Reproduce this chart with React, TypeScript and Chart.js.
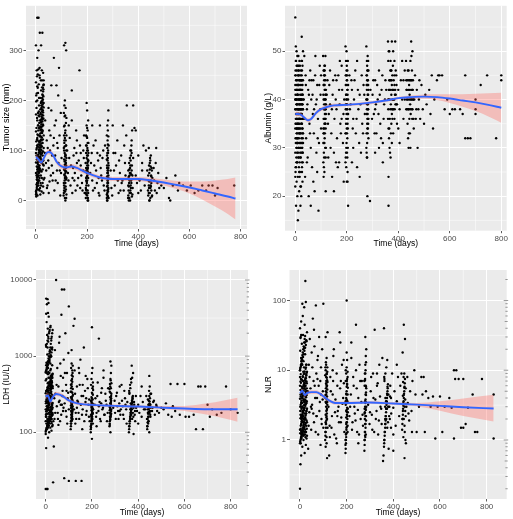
import React, { useEffect, useRef } from "react";
import { Chart, registerables } from "chart.js";
Chart.register(...registerables);

const FONT = "'Liberation Sans', Arial, Helvetica, sans-serif";
const BAND = "rgba(255,104,95,0.35)";
const LINE = "#3366FF";

// ---------- Tumor size ----------
const tumorPoints: number[][] = [
  [0,12],[3,25],[6,40],[10,55],[14,70],[18,85],[22,100],[26,115],[30,130],[2,145],[5,160],[8,175],[12,190],[16,205],[20,220],[24,240],[28,255],[1,20],[4,35],[7,48],[11,62],[15,78],[19,92],[23,108],[27,122],[0,138],[9,150],[13,168],[17,182],[21,198],[25,212],[29,230],[3,260],[6,10],[10,30],[14,45],[18,60],[22,75],[26,90],[30,105],[1,118],[5,125],[9,140],[13,155],[17,172],[21,185],[25,200],[29,15],[2,50],[8,65],[12,80],[16,95],[20,110],[24,135],[28,150],[4,165],[11,178],[19,195],[27,210],[7,225],[15,245],[23,260],[5,285],[10,300],[20,310],[0,310],[25,335],[5,365],[10,365],[15,335],[18,120],[6,88],[12,100],[22,58],[26,35],[14,20],[28,72],[3,82],[9,112],[30,42],
  [35,95],[40,60],[42,120],[45,30],[48,80],[50,15],[52,140],[55,100],[58,50],[60,230],[62,70],[65,40],[68,110],[70,285],[72,20],[75,90],[78,160],[80,230],[82,60],[85,35],[88,75],[90,265],[92,130],[95,10],[98,55],[100,85],[60,180],[50,65],[70,125],[85,105],
  [108,10],[110,30],[112,50],[114,70],[116,90],[118,110],[110,130],[112,150],[114,170],[116,185],[118,5],[110,20],[112,40],[114,60],[116,80],[118,100],[111,120],[113,60],[115,35],[117,75],[119,45],[110,310],[115,315],[118,300],[113,200],[112,95],
  [125,55],[130,85],[135,30],[140,160],[145,65],[150,105],[155,20],[160,75],[165,45],[170,260],[175,95],[180,35],[185,60],[190,15],[140,220],[150,40],[160,120],[175,70],[185,100],
  [195,5],[197,20],[199,35],[201,50],[203,65],[205,80],[196,95],[198,110],[200,125],[202,140],[204,160],[200,180],[198,195],[202,0],[204,15],[196,45],[200,70],[203,90],[197,60],[205,30],[201,105],
  [215,75],[220,40],[225,110],[230,25],[235,60],[240,95],[245,15],[250,150],[255,50],[260,85],[265,30],[270,110],[245,45],
  [278,0],[279,15],[280,30],[281,45],[282,60],[283,75],[278,90],[279,105],[280,120],[281,140],[282,160],[283,180],[280,10],[282,35],[279,55],[281,85],[283,25],[278,70],[282,100],
  [295,25],[300,150],[305,60],[310,95],[320,40],[325,80],[330,20],[340,150],[345,110],[350,50],[355,190],[335,35],
  [360,5],[362,20],[364,35],[366,50],[368,65],[370,80],[372,100],[374,120],[376,140],[362,45],[366,15],[370,30],[374,60],[378,25],[364,75],[368,0],[372,40],[380,190],[380,85],[385,145],[390,140],[390,50],[395,35],
  [430,100],[435,60],[438,20],[440,40],[442,70],[444,0],[446,85],[448,30],[450,50],[452,65],[454,10],[441,105],[447,25],[455,45],[460,65],[465,20],[470,105],[475,35],
  [490,30],[500,25],[510,45],[520,5],[525,0],[535,30],[545,50],[555,20],[560,35],[575,30],[590,20],[605,30],[620,15],[635,20],[650,30],[665,20],[675,30],[690,30],[700,10],[710,25],[775,30]
];
const tumorPointsDense: number[][] = [
  [1,15],[4,28],[7,42],[10,68],[13,82],[16,110],[19,128],[22,142],[25,158],[28,170],[2,185],[5,200],[8,215],[11,232],[14,250],[17,12],[20,30],[23,45],[26,62],[29,80],[0,95],[3,105],[6,120],[9,130],[12,145],[15,160],[18,175],[21,190],[24,205],[27,225],[30,240],[0,55],[3,68],[6,75],[9,92],[12,118],[15,130],[18,140],[21,152],[24,165],[27,180],[30,195],[1,210],[4,122],[7,108],[10,85],[13,40],[16,25],[19,50],[22,18],[25,78],[28,98],[2,102],[5,62],[8,35],[11,22],[14,112],[17,148],[20,162],[23,178],[26,192],[29,208],[0,172],[4,248],[9,262],[19,240],[24,226],
  [109,15],[111,25],[113,45],[115,55],[117,65],[119,85],[109,105],[111,115],[113,125],[115,140],[117,155],[119,165],[109,175],[111,190],[113,5],[115,0],[117,22],[119,12],[110,62],[112,78],[114,88],[116,48],[118,58],[110,100],[114,135],
  [195,25],[197,40],[199,55],[201,75],[203,100],[205,115],[196,130],[198,150],[200,10],[202,20],[204,45],[196,65],[198,85],[200,100],[202,115],[204,0],[206,55],[194,75],[200,40],[203,5],[197,12],
  [277,5],[279,20],[281,40],[283,50],[278,65],[280,80],[282,95],[284,110],[277,130],[279,150],[281,8],[283,45],[278,28],[280,60],[282,18],[284,70],[279,0],
  [361,10],[363,28],[365,42],[367,55],[369,70],[371,90],[373,110],[361,60],[365,5],[369,20],[373,35],[377,50],[363,0],[371,15],[375,8],
  [439,10],[441,30],[443,55],[445,75],[447,5],[449,40],[451,20],[453,60],[443,0],[449,90],[451,35],[445,15],
  [33,45],[36,160],[39,75],[43,25],[46,105],[49,185],[53,38],[57,130],[63,90],[67,55],[73,150],[77,40],[83,115],[87,210],[93,60],[97,175]
];
const tumorPointsExtra: number[][] = [
  [0,18],[2,32],[4,46],[6,58],[8,72],[10,88],[12,102],[14,116],[16,128],[18,142],[20,156],[22,168],[24,182],[26,196],[28,218],[30,232],[1,8],[3,42],[5,52],[7,66],[9,78],[11,96],[13,106],[15,118],[17,134],[19,146],[21,158],[23,172],[25,188],[27,202],[29,222],[0,236],[2,12],[4,22],[6,30],[8,48],[10,58],[12,66],[14,84],[16,98],[18,106],[20,122],[22,136],[24,148],[26,162],[28,176],[30,186],[1,198],[3,214],[5,228],[7,252],[9,38],[11,50],[13,56],[15,64],[17,88],[19,102],[21,114],[23,126],[25,138],[27,152],[29,164],[0,76],[2,90],[4,110],[6,132],[8,150],[10,170],[12,205],[14,265],[16,60],[18,35],[20,82],[22,120],[24,95],[26,140],[28,28],[30,70],
  [109,35],[111,52],[113,72],[115,92],[117,110],[119,130],[110,148],[112,168],[114,18],[116,28],[118,42],[110,82],[112,108],[116,120],[118,70],
  [195,15],[197,30],[199,48],[201,62],[203,78],[205,95],[196,110],[198,128],[200,145],[202,58],[204,70],[196,22],[198,38],[200,90],[202,82],
  [277,12],[279,35],[281,55],[283,65],[277,82],[279,95],[281,112],[283,128],[278,48],[280,40],[282,22],[284,5],
  [361,30],[363,48],[365,62],[367,85],[369,100],[371,25],[373,52],[375,70],[377,12],[366,40],[370,55],[374,95],
  [439,50],[441,15],[443,38],[445,62],[447,80],[449,28],[451,48],[453,8],[442,25],[448,68]
];
const tumorPointsBetween: number[][] = [
  [122,100],[127,40],[132,125],[137,70],[142,15],[147,90],[152,55],[157,140],[162,30],[167,80],[172,110],[177,50],[182,20],[187,85],[128,150],[143,45],[158,95],[173,25],[188,130],
  [212,55],[218,95],[223,20],[228,70],[233,120],[238,35],[243,80],[248,10],[253,65],[258,40],[263,100],[268,20],[220,150],[250,90],
  [292,60],[298,10],[303,95],[308,30],[313,70],[318,120],[323,15],[328,55],[333,90],[338,40],[343,20],[348,75],[353,130],
  [400,90],[405,40],[410,20],[415,60],[420,110],[425,30],[400,15],[415,75],[462,40],[468,75],[472,15],[478,55],[482,25]
];
const tumorFitX = [0,10,20,30,40,50,60,70,80,100,120,140,160,180,200,225,250,275,300,350,400,450,500,550,600,650,700,750,780];
const tumorFit = [87,82,76,84,94,97,95,88,78,68,66,68,65,60,55,50,46,44,43,43,43,40,36,31,26,20,14,8,4];
const tumorUpper = [93,87,81,89,99,102,100,93,83,73,71,73,70,65,59,54,50,48,47,47,47,45,42,39,38,38,40,43,46];
const tumorLower = [81,77,71,79,89,92,90,83,73,63,61,63,60,55,51,46,42,40,39,39,39,35,30,23,14,2,-12,-27,-38];

// ---------- Albumin ----------
const albPoints: number[][] = [
  [0,57],[2,51],[5,50],[25,53],[10,15],[12,17],[3,18],[20,18],[8,20],[15,21],[0,22],[22,22],[5,23],[28,23],[10,24],[18,25],[2,26],[26,26],[7,27],[14,28],[21,28],[0,29],[11,29],[27,30],[4,30],[16,31],[23,31],[1,32],[9,32],[19,33],[29,33],[6,34],[13,34],[24,35],[3,35],[17,36],[28,36],[8,37],[20,37],[0,38],[12,38],[25,38],[5,39],[15,39],[22,40],[2,40],[10,41],[27,41],[7,42],[18,42],[0,43],[14,43],[24,44],[4,44],[11,45],[21,45],[1,46],[26,46],[9,47],[16,48],[3,48],[12,49],[30,50],[6,36],[23,33],[19,39],[13,30],[29,27],[1,41],[17,44],[26,35],[8,31],[30,40],[14,37],[20,34],[5,42],
  [35,49],[38,24],[40,45],[42,32],[45,38],[48,28],[50,42],[52,20],[55,35],[58,46],[60,30],[62,40],[65,26],[68,37],[70,44],[72,33],[75,21],[78,49],[80,39],[82,29],[85,43],[88,36],[90,17],[92,31],[95,47],[98,41],[100,34],[60,18],[45,27],[70,23],[85,25],[55,44],
  [108,49],[110,46],[112,44],[114,42],[116,40],[118,38],[110,36],[112,34],[114,32],[116,30],[118,28],[111,26],[113,47],[115,45],[117,41],[119,37],[110,33],[112,39],[114,43],[116,35],[118,21],[113,25],
  [125,44],[130,37],[135,46],[140,33],[145,41],[150,29],[155,45],[160,38],[165,26],[170,42],[175,35],[180,47],[185,31],[190,40],[150,21],[135,39],[160,44],[170,27],[180,36],
  [195,51],[197,48],[199,46],[201,44],[203,42],[205,40],[196,38],[198,36],[200,34],[202,32],[204,30],[196,28],[198,26],[200,23],[203,23],[205,18],[201,45],[199,39],[197,41],[203,37],[200,43],
  [210,45],[215,39],[220,42],[225,36],[230,44],[235,33],[240,48],[245,38],[250,41],[255,29],[260,35],[265,43],[270,37],[240,26],[225,30],
  [276,51],[278,48],[280,46],[282,44],[284,42],[276,40],[278,38],[280,36],[282,34],[284,32],[276,30],[278,28],[280,20],[290,19],[282,39],[280,43],[278,45],
  [300,41],[305,37],[310,44],[315,33],[320,40],[325,46],[330,35],[335,42],[340,31],[345,39],[350,44],[310,38],[325,30],
  [360,52],[365,50],[370,48],[372,46],[374,44],[376,42],[378,40],[380,38],[360,36],[362,34],[364,32],[366,30],[368,29],[370,28],[362,24],[362,18],[375,52],[380,50],[385,48],[390,46],[385,43],[390,41],[395,39],[385,36],[380,33],[395,35],[375,37],[388,52],[392,45],
  [420,44],[425,40],[430,48],[432,42],[434,38],[436,35],[438,32],[440,46],[442,43],[444,41],[446,39],[448,37],[450,52],[452,44],[454,36],[456,42],[458,40],[460,34],[440,30],[445,33],[465,45],[470,38],
  [480,40],[485,36],[490,43],[495,38],[500,35],[505,41],[510,39],[520,42],[525,37],[530,45],[535,34],[540,40],[550,44],[555,45],[560,45],[570,45],[580,38],[590,40],[600,37],[610,38],[620,38],[640,38],[650,37],[660,45],[660,32],[670,32],[680,32],[700,40],[700,38],[700,37],[720,43],[745,45],[780,32],[800,44],[800,45]
];
const albPointsDense: number[][] = [
  [1,25],[4,27],[7,29],[10,31],[13,33],[16,35],[19,37],[22,39],[25,41],[28,43],[2,45],[5,47],[8,49],[11,36],[14,38],[17,40],[20,42],[23,44],[26,30],[29,32],[0,34],[3,37],[6,39],[9,41],[12,43],[15,45],[18,47],[21,30],[24,32],[27,34],[30,36],[1,38],[4,40],[7,33],[10,35],[13,37],[16,39],[19,41],[22,43],[25,45],[28,47],[2,31],[5,33],[8,35],[11,28],[14,26],[17,24],[20,22],[23,20],[26,25],[29,29],[0,42],[3,44],[6,46],[9,38],[12,40],[15,42],[18,36],[21,38],[24,40],[27,42],[30,44],[4,36],[10,39],[16,33],[22,36],[28,39],[6,31],[12,35],[18,30],[24,37],[30,31],[2,48],[14,46],[26,48],
  [109,27],[111,29],[113,31],[115,33],[117,35],[119,39],[109,41],[111,43],[113,45],[115,47],[117,49],[119,30],[109,34],[111,38],[113,40],[115,36],[117,44],[119,42],[110,24],[112,46],[114,36],[116,38],[118,40],
  [195,27],[197,29],[199,31],[201,33],[203,35],[205,37],[196,39],[198,41],[200,44],[202,46],[204,48],[196,43],[198,45],[200,40],[202,38],[204,36],[199,50],[201,29],[203,25],[197,33],
  [277,29],[279,31],[281,33],[283,35],[277,37],[279,39],[281,41],[283,43],[277,45],[279,47],[281,49],[283,38],[278,42],[280,40],[282,36],[284,46],[279,28],[281,44],
  [361,38],[363,40],[365,42],[367,44],[369,46],[371,39],[373,41],[375,43],[377,45],[379,47],[361,48],[363,50],[365,34],[367,36],[369,38],[371,33],[373,35],[375,31],[377,40],[379,42],[382,44],[384,40],[386,38],[388,42],[392,39],
  [431,44],[433,40],[437,46],[439,42],[441,38],[443,36],[445,44],[447,48],[449,40],[451,42],[453,46],[455,38],[457,44],[459,36],[441,33],[447,30],[451,49],[455,50],
  [33,40],[37,36],[41,43],[47,39],[53,41],[57,33],[63,44],[67,41],[73,38],[77,45],[83,40],[87,32],[93,43],[97,38],[100,45]
];
const albPointsExtra: number[][] = [
  [0,24],[2,26],[4,28],[6,30],[8,32],[10,34],[12,36],[14,38],[16,40],[18,42],[20,44],[22,46],[24,48],[26,27],[28,29],[30,33],[1,35],[3,37],[5,39],[7,41],[9,43],[11,45],[13,47],[15,25],[17,27],[19,29],[21,31],[23,35],[25,37],[27,39],[29,41],[0,45],[2,36],[4,38],[6,40],[8,42],[10,44],[12,30],[14,32],[16,34],[18,36],[20,38],[22,40],[24,42],[26,44],[28,34],[30,38],[1,40],[3,42],[5,34],[7,36],[9,38],[11,40],[13,42],[15,36],[17,38],[19,40],[21,42],[23,38],[25,40],[27,36],[29,38],[0,40],[4,32],[8,27],[12,46],[16,44],[20,28],[24,29],[28,31],[6,43],[18,33],[10,37],[26,39],
  [109,31],[111,33],[113,35],[115,37],[117,39],[119,41],[110,43],[112,45],[114,38],[116,42],[118,36],[110,40],[114,46],[118,34],[112,28],
  [195,33],[197,35],[199,37],[201,39],[203,41],[205,43],[196,45],[198,40],[200,38],[202,42],[204,34],[198,30],[202,28],[200,47],
  [277,33],[279,35],[281,37],[283,41],[277,43],[279,44],[281,46],[283,48],[278,40],[282,38],[280,34],[284,36],
  [361,40],[363,42],[365,44],[367,40],[369,42],[371,44],[373,46],[375,38],[377,36],[379,38],[381,40],[383,42],[385,45],[387,41],[389,39],[393,43],
  [431,38],[433,42],[435,44],[437,40],[439,38],[441,44],[443,40],[445,42],[447,38],[449,44],[451,40],[453,38],[455,42],[457,40]
];
const albPointsBetween: number[][] = [
  [122,41],[127,35],[132,43],[137,30],[142,38],[147,44],[152,36],[157,40],[162,32],[167,45],[172,39],[177,33],[182,42],[187,37],[128,28],[143,24],[158,27],[173,48],[188,23],
  [212,38],[218,44],[223,34],[228,40],[233,46],[238,36],[243,42],[248,31],[253,39],[258,45],[263,33],[268,41],[220,27],[250,24],
  [292,42],[298,36],[303,44],[308,33],[313,39],[318,43],[323,37],[328,41],[333,32],[338,45],[343,36],[348,40],[353,42],[310,29],[340,27],
  [400,42],[405,38],[410,44],[415,40],[420,36],[425,46],[400,34],[415,48],[405,31],[462,40],[468,36],[472,42],[478,38],[482,44],[475,30]
];
const albFitX = [0,10,20,30,40,50,60,70,80,100,125,150,200,250,300,350,400,450,500,550,600,650,700,750,800];
const albFit = [37.0,37.0,36.9,36.5,36.0,35.7,35.9,36.5,37.2,38.0,38.5,38.8,38.9,39.1,39.4,39.8,40.3,40.5,40.6,40.5,40.2,39.8,39.4,38.9,38.3];
const albUpper = [37.5,37.4,37.3,36.9,36.4,36.1,36.3,36.9,37.6,38.4,38.9,39.2,39.2,39.4,39.7,40.1,40.6,40.85,41.05,41.1,41.1,41.1,41.2,41.3,41.4];
const albLower = [36.5,36.6,36.5,36.1,35.6,35.3,35.5,36.1,36.8,37.6,38.1,38.4,38.6,38.8,39.1,39.5,40.0,40.15,40.15,39.9,39.3,38.5,37.6,36.5,35.2];

// ---------- LDH ----------
const ldhPoints: number[][] = [
  [0,18],[5,18],[8,18],[2,62],[10,85],[0,95],[15,100],[25,105],[5,110],[20,115],[28,120],[3,130],[12,135],[22,140],[7,150],[18,155],[27,165],[1,170],[14,180],[24,190],[9,200],[30,210],[4,220],[16,230],[26,240],[11,250],[21,265],[6,280],[29,295],[13,310],[19,330],[2,350],[23,370],[8,390],[17,420],[27,450],[0,480],[12,520],[25,560],[5,600],[20,650],[10,700],[28,760],[3,820],[15,900],[22,980],[7,1050],[18,1150],[26,1250],[1,1400],[11,1550],[24,1700],[6,1900],[16,2100],[9,2300],[21,2500],[4,2800],[13,3300],[2,3600],[10,3700],[5,4800],[12,5000],[2,5700],[8,5600],[19,190],[14,260],[24,320],[9,440],[29,180],[1,240],[17,160],[23,280],[6,360],[27,200],[13,140],[20,410],[3,500],[26,150],[11,620],[30,125],[8,1300],[16,850],[22,550],[30,170],[32,22],[35,65],
  [38,150],[40,1200],[45,10000],[42,320],[48,220],[50,700],[52,180],[55,400],[58,1500],[60,260],[62,140],[65,550],[68,3500],[70,7500],[72,300],[75,190],[78,900],[80,7500],[82,240],[85,2000],[88,420],[90,160],[92,600],[95,280],[98,1100],[100,4500],[100,200],[80,25],[100,23],[60,1800],[75,520],[90,350],[55,125],[65,230],
  [108,110],[110,130],[112,150],[114,170],[116,190],[110,210],[112,240],[114,270],[116,300],[108,340],[110,380],[112,430],[114,500],[116,600],[110,700],[112,800],[114,160],[110,250],[116,220],[112,1200],[120,2500],[125,3100],[113,180],[109,140],
  [130,23],[155,23],[125,650],[130,180],[135,400],[140,250],[145,150],[150,900],[155,300],[160,200],[165,1300],[170,350],[175,170],[180,500],[185,230],[190,140],[145,600],[160,420],[175,280],[135,210],
  [195,100],[196,115],[197,130],[198,150],[199,170],[200,190],[201,215],[202,240],[203,270],[204,310],[205,360],[196,420],[198,500],[200,600],[202,700],[200,82],[204,200],[198,260],[200,2400],[230,1700],[197,160],[203,175],
  [215,280],[220,180],[225,450],[230,220],[235,150],[240,330],[245,200],[250,520],[255,170],[260,260],[265,140],[270,380],[240,240],
  [276,120],[277,140],[278,160],[279,180],[280,200],[281,225],[282,250],[283,280],[284,320],[276,370],[278,430],[280,500],[282,600],[284,750],[280,850],[278,210],[282,170],[280,100],
  [300,180],[305,300],[310,220],[315,150],[320,400],[325,200],[330,260],[335,170],[340,350],[345,230],[350,130],[320,190],
  [360,100],[362,120],[364,140],[366,160],[368,180],[370,200],[372,225],[374,250],[376,280],[362,320],[366,380],[370,450],[374,520],[378,600],[372,750],[380,210],[385,170],[390,300],[395,190],[380,95],[368,240],
  [430,200],[435,300],[438,150],[440,120],[442,180],[444,230],[446,260],[448,550],[450,400],[452,170],[454,210],[448,100],[445,140],[456,320],[460,190],[465,250],
  [480,220],[490,180],[500,210],[510,200],[520,240],[530,170],[540,430],[545,160],[550,220],[560,190],[570,430],[580,170],[600,430],[605,160],[620,160],[640,170],[650,110],[660,400],[670,400],[680,110],[690,400],[700,230],[710,160],[720,200],[740,170],[760,180],[780,400],[800,200],[830,180]
];
const ldhPointsDense: number[][] = [
  [1,105],[4,112],[7,118],[10,126],[13,133],[16,142],[19,150],[22,158],[25,168],[28,178],[2,188],[5,198],[8,210],[11,222],[14,235],[17,248],[20,262],[23,276],[26,292],[29,308],[0,325],[3,345],[6,365],[9,385],[12,410],[15,435],[18,460],[21,490],[24,520],[27,555],[30,590],[1,630],[4,670],[7,720],[10,770],[13,830],[16,890],[19,960],[22,1030],[25,1120],[28,1220],[2,1330],[5,1450],[8,1600],[11,1800],[14,2000],[17,2200],[20,2400],[3,160],[9,175],[15,195],[21,215],[27,230],[6,245],[12,270],[18,300],[24,340],[30,380],[0,140],[14,122],[26,132],[8,255],[20,190],[4,300],[16,520],[28,410],[10,580],[22,680],[2,760],[18,1150],[12,1700],
  [109,120],[111,140],[113,160],[115,180],[117,200],[109,225],[111,260],[113,290],[115,330],[117,370],[109,420],[111,480],[113,560],[115,650],[117,750],[110,170],[112,205],[114,235],[116,150],[112,280],
  [195,110],[197,125],[199,140],[201,160],[203,180],[205,200],[196,225],[198,250],[200,280],[202,320],[204,400],[196,170],[198,195],[200,215],[202,150],[204,130],[199,240],[201,190],
  [277,130],[279,150],[281,170],[283,190],[277,215],[279,240],[281,270],[283,300],[277,340],[279,400],[281,480],[283,200],[278,180],[282,230],[280,160],
  [361,110],[363,130],[365,150],[367,170],[369,190],[371,215],[373,240],[375,270],[377,300],[361,350],[365,420],[369,500],[373,200],[377,180],[379,160],[383,230],[387,140],[391,210],
  [439,110],[441,135],[443,160],[445,185],[447,210],[449,240],[451,280],[453,320],[441,200],[445,160],[449,180],[453,230],[447,350],[443,130],
  [33,140],[37,280],[41,180],[47,420],[53,150],[57,250],[63,800],[67,170],[73,350],[77,210],[83,600],[87,190],[93,130],[97,330],[70,230]
];
const ldhPointsExtra: number[][] = [
  [0,102],[2,108],[4,115],[6,122],[8,128],[10,136],[12,145],[14,152],[16,162],[18,172],[20,182],[22,195],[24,205],[26,218],[28,228],[30,242],[1,255],[3,268],[5,285],[7,300],[9,318],[11,335],[13,355],[15,375],[17,400],[19,425],[21,450],[23,480],[25,510],[27,540],[29,575],[0,610],[2,650],[4,700],[6,750],[8,800],[10,860],[12,930],[14,1000],[16,1080],[18,1200],[20,1300],[22,1450],[24,1600],[26,1800],[28,2000],[30,2200],[1,160],[3,175],[5,190],[7,205],[9,225],[11,240],[13,260],[15,280],[17,300],[19,330],[21,360],[23,390],[25,430],[27,470],[29,520],[0,200],[4,250],[8,350],[12,450],[16,600],[20,800],[24,1000],[28,1300],[6,140],[14,210],[22,290],[30,400],[18,130],[10,115],[26,175],
  [109,130],[111,155],[113,185],[115,215],[117,250],[109,290],[111,340],[113,400],[115,460],[117,540],[110,190],[112,225],[114,145],[116,260],[118,310],
  [195,120],[197,140],[199,165],[201,180],[203,205],[205,230],[196,260],[198,290],[200,330],[202,380],[204,450],[198,210],[202,175],[200,145],
  [277,125],[279,145],[281,160],[283,175],[277,195],[279,215],[281,240],[283,260],[278,290],[280,330],[282,380],[284,440],
  [361,120],[363,140],[365,160],[367,180],[369,205],[371,230],[373,260],[375,290],[362,330],[366,200],[370,170],[374,150],[378,220],[382,250],[386,190],
  [439,120],[441,150],[443,175],[445,200],[447,225],[449,255],[451,190],[453,160],[442,270],[448,300],[444,140]
];
const ldhPointsBetween: number[][] = [
  [122,200],[127,320],[132,150],[137,260],[142,180],[147,420],[152,230],[157,170],[162,300],[167,140],[172,250],[177,190],[182,380],[187,160],[128,130],[143,700],[158,110],[173,550],[188,270],
  [212,230],[218,160],[223,300],[228,190],[233,250],[238,140],[243,380],[248,210],[253,170],[258,320],[263,230],[268,180],[220,120],[250,650],
  [292,210],[298,260],[303,150],[308,330],[313,190],[318,240],[323,170],[328,420],[333,220],[338,150],[343,280],[348,200],[353,250],
  [400,230],[405,180],[410,300],[415,160],[420,250],[425,200],[400,130],[415,400],[462,210],[468,260],[472,170],[478,230],[482,190]
];
const ldhFitX = [0,10,20,30,45,60,80,100,125,150,200,250,300,400,500,600,700,830];
const ldhFit = [294,305,253,288,319,312,290,262,245,236,229,225,222,218,211,205,201,201];
const ldhUpper = [320,330,275,310,340,332,308,278,258,248,239,234,231,227,221,222,240,285];
const ldhLower = [270,282,233,268,300,294,273,247,233,225,220,216,213,209,202,190,170,138];

// ---------- NLR ----------
const nlrPoints: number[][] = [
  [0,0.2],[2,0.45],[5,0.6],[20,0.65],[10,0.8],[25,0.85],[3,0.9],[15,1.0],[28,1.05],[7,1.1],[22,1.2],[12,1.3],[0,1.4],[18,1.5],[27,1.6],[5,1.7],[14,1.85],[24,2.0],[9,2.2],[19,2.4],[1,2.6],[29,2.8],[11,3.0],[21,3.2],[6,3.5],[16,3.8],[26,4.1],[2,4.5],[13,4.9],[23,5.3],[8,5.8],[17,6.3],[28,6.9],[4,7.5],[12,8.2],[20,9.0],[0,10],[25,11],[10,12],[15,13.5],[5,15],[22,17],[1,19],[18,21],[8,24],[27,27],[3,30],[13,32],[0,40],[20,45],[5,50],[12,60],[10,90],[25,95],[23,190],[18,80],[30,35],[16,2.7],[26,1.3],[6,2.0],[11,5.5],[19,3.7],[3,8.8],[29,4.4],[14,1.15],[24,6.0],[7,14],[21,25],[9,1.9],[17,11],[28,3.4],[2,2.3],[30,1.8],[13,7.0],
  [35,0.75],[38,12],[40,2.5],[42,28],[45,5.5],[48,1.4],[50,18],[52,3.2],[55,55],[58,7],[60,1.8],[62,22],[65,4],[68,85],[70,9],[72,2.2],[75,14],[78,1.2],[80,6],[82,30],[85,3.5],[88,0.85],[90,11],[92,2],[95,20],[98,5],[100,90],[100,1.5],[60,38],[75,7.5],[90,4.5],[50,2.8],
  [108,1.0],[110,1.3],[112,1.7],[114,2.2],[116,2.8],[110,3.5],[112,4.5],[114,5.8],[116,7.2],[108,8.5],[110,10],[112,12],[114,15],[116,0.55],[110,0.8],[112,6.5],[114,9],[110,30],[118,35],[112,3.0],[114,1.1],[116,2.0],
  [125,0.6],[130,8],[135,1.5],[140,4.5],[145,20],[150,2.5],[155,1.05],[160,6],[165,3],[170,35],[175,1.8],[180,12],[185,4],[190,1.3],[140,10],[160,2.2],[175,7],
  [195,0.65],[196,0.75],[197,0.9],[198,1.1],[199,1.4],[200,1.8],[201,2.3],[202,2.9],[203,3.6],[204,4.5],[205,5.6],[196,7],[198,9],[200,11],[202,14],[200,18],[200,100],[204,1.6],[198,2.6],[202,6.2],
  [215,3],[220,15],[225,1.8],[230,6],[235,2.4],[240,10],[245,1.3],[250,4],[255,12],[260,2],[265,7],[270,1.6],[240,45],
  [276,0.7],[277,1.0],[278,1.3],[279,1.7],[280,2.2],[281,2.8],[282,3.5],[283,4.4],[284,5.5],[276,7],[278,9],[280,12],[282,16],[284,20],[280,30],[278,2.5],[282,6],[280,1.1],
  [300,2.5],[305,8],[310,1.4],[315,4],[320,38],[325,2],[330,6],[335,1.2],[340,12],[345,3],[350,1.7],[330,9],
  [356,0.5],[358,0.6],[360,0.8],[362,1.0],[364,1.3],[366,1.7],[368,2.2],[370,2.8],[372,3.5],[374,4.4],[376,5.5],[362,7],[366,9],[370,11],[374,14],[360,40],[380,0.75],[385,2],[390,4],[395,9],[390,1.5],[365,3],[400,0.7],
  [430,6],[435,9],[438,1.4],[440,2],[442,2.8],[444,3.6],[446,4.6],[448,5.8],[450,7.5],[452,1.0],[454,0.9],[448,0.55],[445,45],[450,28],[456,3],[460,8],[465,2.4],[440,18],
  [480,1.3],[490,10],[495,4.5],[500,1.3],[510,3],[520,8],[525,4.5],[530,8],[535,1.3],[540,5],[550,4],[560,3],[570,4.2],[580,1.05],[590,3],[600,4.2],[610,1.3],[620,3],[640,4],[650,2.9],[660,10],[660,1.05],[670,10],[665,7.5],[680,7.5],[690,1.5],[700,7.5],[700,1.5],[710,1.7],[720,2.9],[740,4.5],[750,1.3],[760,1.3],[780,7.5],[830,1.05],[830,4.5]
];
const nlrPointsDense: number[][] = [
  [1,0.95],[4,1.05],[7,1.15],[10,1.25],[13,1.35],[16,1.45],[19,1.55],[22,1.65],[25,1.75],[28,1.9],[2,2.05],[5,2.15],[8,2.3],[11,2.45],[14,2.55],[17,2.7],[20,2.9],[23,3.1],[26,3.3],[29,3.6],[0,3.9],[3,4.2],[6,4.6],[9,5.0],[12,5.5],[15,6.0],[18,6.6],[21,7.2],[24,7.9],[27,8.6],[30,9.5],[1,10.5],[4,11.5],[7,12.5],[10,14],[13,15.5],[16,17],[19,19],[22,21],[25,23],[28,26],[2,29],[5,32],[8,3.0],[11,4.0],[14,5.0],[17,2.0],[20,1.3],[23,1.1],[26,2.4],[29,6.5],[0,8.0],[3,1.6],[6,2.8],[9,3.4],[12,4.3],[15,2.2],[18,1.2],[21,5.8],[24,3.7],[27,2.6],[30,4.9],[2,6.9],[8,1.8],[14,9.5],[20,3.5],[26,12],[5,1.35],[11,2.1],[17,4.5],[23,7.5],[29,1.45],
  [109,1.15],[111,1.5],[113,1.9],[115,2.4],[117,3.2],[109,4.0],[111,5.0],[113,6.2],[115,7.8],[117,9.5],[109,11],[111,13],[113,2.6],[115,3.8],[117,5.3],[110,1.8],[112,8],[114,0.9],[116,4.2],[118,6.8],
  [195,0.85],[197,1.0],[199,1.25],[201,1.55],[203,2.0],[205,2.5],[196,3.2],[198,4.0],[200,5.0],[202,6.4],[204,8],[196,10],[198,2.1],[200,2.7],[202,3.4],[204,1.3],[199,4.5],[201,7],
  [277,0.85],[279,1.15],[281,1.5],[283,1.9],[277,2.4],[279,3.0],[281,3.8],[283,4.8],[277,6],[279,7.5],[281,10],[283,13],[278,2.0],[282,2.7],[280,3.4],
  [361,0.9],[363,1.15],[365,1.5],[367,1.9],[369,2.5],[371,3.2],[373,4.0],[375,5.0],[377,6.3],[361,8],[365,2.0],[369,3.6],[373,2.8],[377,1.8],[379,4.5],[383,3],[387,6],[391,2.4],
  [439,1.7],[441,2.3],[443,3.1],[445,4.0],[447,5.0],[449,6.5],[451,2.6],[453,3.3],[441,4.3],[445,2.0],[449,1.3],[453,5.5],[447,9],[443,1.1],
  [33,5],[37,1.6],[41,8],[47,3],[53,11],[57,2.4],[63,6],[67,1.3],[73,4],[77,16],[83,2.6],[87,7],[93,1.7],[97,3.8],[70,2.2]
];
const nlrPointsExtra: number[][] = [
  [0,0.9],[2,1.0],[4,1.1],[6,1.2],[8,1.3],[10,1.4],[12,1.5],[14,1.6],[16,1.7],[18,1.8],[20,1.95],[22,2.1],[24,2.25],[26,2.4],[28,2.6],[30,2.8],[1,3.0],[3,3.2],[5,3.4],[7,3.7],[9,4.0],[11,4.3],[13,4.7],[15,5.1],[17,5.5],[19,6.0],[21,6.5],[23,7.0],[25,7.7],[27,8.4],[29,9.2],[0,10],[2,11],[4,12],[6,13.5],[8,15],[10,16.5],[12,18],[14,20],[16,22],[18,25],[20,28],[22,31],[1,1.25],[3,1.45],[5,1.65],[7,1.85],[9,2.05],[11,2.3],[13,2.55],[15,2.85],[17,3.15],[19,3.45],[21,3.8],[23,4.2],[25,4.6],[27,5.0],[29,5.5],[0,6.0],[4,6.6],[8,7.3],[12,8.0],[16,8.8],[20,9.6],[24,10.5],[28,12],[6,1.05],[14,1.2],[22,1.4],[30,1.15],[10,2.6],[18,3.6],[26,4.8],[2,5.2],
  [109,1.3],[111,1.7],[113,2.1],[115,2.7],[117,3.5],[109,4.4],[111,5.5],[113,7],[115,8.8],[117,11],[110,2.3],[112,3.4],[114,4.8],[116,6],[118,1.5],
  [195,1.0],[197,1.2],[199,1.5],[201,1.8],[203,2.2],[205,2.8],[196,3.6],[198,4.6],[200,5.8],[202,7.5],[204,9.5],[198,1.7],[202,2.5],[200,3.8],
  [277,1.0],[279,1.3],[281,1.7],[283,2.2],[277,2.8],[279,3.6],[281,4.5],[283,5.8],[278,7.2],[280,9],[282,1.2],[284,3],
  [361,1.0],[363,1.3],[365,1.7],[367,2.2],[369,2.8],[371,3.6],[373,4.6],[375,5.8],[362,7.5],[366,4],[370,2],[374,1.5],[378,3],[382,2.2],[386,4.2],
  [439,2.0],[441,2.6],[443,3.4],[445,4.4],[447,5.6],[449,3.0],[451,3.8],[453,2.2],[442,6.8],[448,1.6],[444,8]
];
const nlrPointsBetween: number[][] = [
  [122,3],[127,1.6],[132,5],[137,2.2],[142,7],[147,1.2],[152,3.8],[157,9],[162,2.6],[167,1.8],[172,5.5],[177,2.1],[182,3.3],[187,14],[128,1.1],[143,16],[158,0.9],[173,25],[188,6.5],
  [212,2.2],[218,4.5],[223,1.4],[228,8],[233,3],[238,1.9],[243,5.5],[248,2.7],[253,1.2],[258,7],[263,3.5],[268,2.3],[220,25],[250,0.9],
  [292,3.2],[298,1.7],[303,5],[308,2.3],[313,9],[318,1.3],[323,3.8],[328,2.6],[333,6.5],[338,1.9],[343,4.2],[348,2.8],[353,15],
  [400,2.9],[405,5],[410,1.6],[415,3.6],[420,8],[425,2.2],[400,1.2],[415,12],[462,3.4],[468,1.9],[472,5],[478,2.6],[482,7]
];
const nlrFitX = [0,10,20,30,50,70,90,110,130,150,200,300,400,500,600,700,830];
const nlrFit = [4.7,5.1,4.4,4.7,4.85,4.85,4.5,4.0,3.6,3.4,3.4,3.45,3.33,3.22,3.08,2.95,2.83];
const nlrUpper = [5.0,5.4,4.7,5.0,5.15,5.15,4.8,4.25,3.8,3.58,3.55,3.6,3.48,3.4,3.6,3.95,4.45];
const nlrLower = [4.4,4.8,4.1,4.4,4.55,4.55,4.2,3.75,3.4,3.22,3.25,3.3,3.18,3.05,2.62,2.2,1.84];

// ---------- axis breaks ----------
const xMajor = [0, 200, 400, 600, 800];
const xMinor = [100, 300, 500, 700];
const tumorYMajor = [0, 100, 200, 300];
const tumorYMinor = [-50, 50, 150, 250, 350];
const albYMajor = [20, 30, 40, 50];
const albYMinor = [15, 25, 35, 45, 55];
const ldhYMajor = [100, 1000, 10000];
const ldhYMinor = [31.62, 316.2, 3162];
const nlrYMajor = [1, 10, 100];
const nlrYMinor = [0.3162, 3.162, 31.62];

type PanelSpec = {
  left: number; top: number; width: number; height: number;
  pad: { left: number; right: number; top: number; bottom: number };
  yWidth: number; xHeight: number;
  xMin: number; xMax: number; yMin: number; yMax: number; log: boolean;
  yMajor: number[]; yMinor: number[];
  yTitle: string; yTitleSize: number; yTitlePad: number;
  points: number[][]; fitX: number[]; fit: number[]; lower: number[]; upper: number[];
};

const panels: PanelSpec[] = [
  {
    left: 0, top: 0, width: 256, height: 250,
    pad: { left: 0, right: 9, top: 0, bottom: 0 }, yWidth: 26, xHeight: 21,
    xMin: -39, xMax: 825, yMin: -57, yMax: 389, log: false,
    yMajor: tumorYMajor, yMinor: tumorYMinor,
    yTitle: "Tumor size (mm)", yTitleSize: 9, yTitlePad: 1.6,
    points: tumorPoints.concat(tumorPointsDense, tumorPointsExtra, tumorPointsBetween),
    fitX: tumorFitX, fit: tumorFit, lower: tumorLower, upper: tumorUpper,
  },
  {
    left: 256, top: 0, width: 257, height: 250,
    pad: { left: 0, right: 6.3, top: 0, bottom: 0 }, yWidth: 29, xHeight: 19.3,
    xMin: -40, xMax: 821, yMin: 12.85, yMax: 59.4, log: false,
    yMajor: albYMajor, yMinor: albYMinor,
    yTitle: "Albumin (g/L)", yTitleSize: 8.5, yTitlePad: 7.4,
    points: albPoints.concat(albPointsDense, albPointsExtra, albPointsBetween),
    fitX: albFitX, fit: albFit, lower: albLower, upper: albUpper,
  },
  {
    left: 0, top: 250, width: 256, height: 269,
    pad: { left: 0, right: 8, top: 20, bottom: 0 }, yWidth: 36, xHeight: 20,
    xMin: -42, xMax: 875, yMin: 13.3, yMax: 13530, log: true,
    yMajor: ldhYMajor, yMinor: ldhYMinor,
    yTitle: "LDH (IU/L)", yTitleSize: 8.5, yTitlePad: 1.2,
    points: ldhPoints.concat(ldhPointsDense, ldhPointsExtra, ldhPointsBetween),
    fitX: ldhFitX, fit: ldhFit, lower: ldhLower, upper: ldhUpper,
  },
  {
    left: 256, top: 250, width: 257, height: 269,
    pad: { left: 0, right: 6.3, top: 20, bottom: 0 }, yWidth: 33.5, xHeight: 20,
    xMin: -45, xMax: 886, yMin: 0.1426, yMax: 273.7, log: true,
    yMajor: nlrYMajor, yMinor: nlrYMinor,
    yTitle: "NLR", yTitleSize: 8.5, yTitlePad: 7.9,
    points: nlrPoints.concat(nlrPointsDense, nlrPointsExtra, nlrPointsBetween),
    fitX: nlrFitX, fit: nlrFit, lower: nlrLower, upper: nlrUpper,
  },
];

function Panel({ p }: { p: PanelSpec }) {
  const ref = useRef<HTMLCanvasElement | null>(null);
  useEffect(() => {
    if (!ref.current) return;
    const bg = {
      id: "panelBg",
      beforeDraw(chart: any) {
        const { ctx, chartArea: a } = chart;
        ctx.save();
        ctx.fillStyle = "#EBEBEB";
        ctx.fillRect(a.left, a.top, a.right - a.left, a.bottom - a.top);
        ctx.restore();
      },
    };
    const minor = {
      id: "minorGrid",
      beforeDatasetsDraw(chart: any) {
        const { ctx, chartArea: a, scales } = chart;
        ctx.save();
        ctx.strokeStyle = "#FFFFFF";
        ctx.lineWidth = 0.5;
        ctx.beginPath();
        xMinor.forEach((v) => {
          const px = scales.x.getPixelForValue(v);
          ctx.moveTo(px, a.top);
          ctx.lineTo(px, a.bottom);
        });
        p.yMinor.forEach((v) => {
          const py = scales.y.getPixelForValue(v);
          if (py < a.top || py > a.bottom) return;
          ctx.moveTo(a.left, py);
          ctx.lineTo(a.right, py);
        });
        ctx.stroke();
        ctx.restore();
      },
    };
    const logTicks = {
      id: "logTicks",
      afterDatasetsDraw(chart: any) {
        if (!p.log) return;
        const { ctx, chartArea: a, scales } = chart;
        const ys = scales.y;
        ctx.save();
        ctx.strokeStyle = "#6E6E6E";
        ctx.lineWidth = 0.7;
        ctx.beginPath();
        const lo = Math.floor(Math.log10(p.yMin));
        const hi = Math.ceil(Math.log10(p.yMax));
        for (let k = lo; k <= hi; k++) {
          for (let m = 1; m <= 9; m++) {
            const v = m * Math.pow(10, k);
            if (v < p.yMin || v > p.yMax) continue;
            const py = ys.getPixelForValue(v);
            const inner = m === 1 ? 3 : m === 5 ? 2 : 1.3;
            const outer = m === 1 ? 1.5 : 1;
            ctx.moveTo(a.right - inner, py);
            ctx.lineTo(a.right + outer, py);
          }
        }
        ctx.stroke();
        ctx.restore();
      },
    };

    const gridBase = {
      color: "#FFFFFF",
      lineWidth: 1,
      drawTicks: true,
      tickLength: 2.5,
      tickColor: "#333333",
      tickWidth: 0.8,
    };
    const tickFont = { size: 8, family: FONT };

    const chart = new Chart(ref.current, {
      type: "line",
      data: {
        datasets: [
          {
            data: p.points.map(([x, y]) => ({ x, y })),
            showLine: false,
            pointRadius: 1.2,
            pointHoverRadius: 1.2,
            pointBackgroundColor: "#000000",
            pointBorderWidth: 0,
            borderColor: "transparent",
            order: 3,
          } as any,
          {
            data: p.fitX.map((x, i) => ({ x, y: p.upper[i] })),
            pointRadius: 0,
            borderWidth: 0,
            borderColor: "transparent",
            backgroundColor: BAND,
            fill: "+1",
            cubicInterpolationMode: "monotone",
            order: 2,
          },
          {
            data: p.fitX.map((x, i) => ({ x, y: p.lower[i] })),
            pointRadius: 0,
            borderWidth: 0,
            borderColor: "transparent",
            fill: false,
            cubicInterpolationMode: "monotone",
            order: 2,
          },
          {
            data: p.fitX.map((x, i) => ({ x, y: p.fit[i] })),
            pointRadius: 0,
            borderWidth: 1.9,
            borderColor: LINE,
            fill: false,
            cubicInterpolationMode: "monotone",
            order: 1,
          },
        ],
      },
      options: {
        animation: false,
        responsive: false,
        maintainAspectRatio: false,
        devicePixelRatio: 1,
        events: [],
        layout: { padding: p.pad },
        plugins: {
          legend: { display: false },
          tooltip: { enabled: false },
        },
        scales: {
          x: {
            type: "linear",
            min: p.xMin,
            max: p.xMax,
            afterBuildTicks: (s: any) => {
              s.ticks = xMajor.map((v) => ({ value: v }));
            },
            afterFit: (s: any) => {
              s.height = p.xHeight;
            },
            grid: gridBase,
            border: { display: false },
            ticks: {
              font: tickFont,
              color: "#4D4D4D",
              padding: 0.5,
              maxRotation: 0,
              autoSkip: false,
              callback: (v: any) => String(v),
            },
            title: {
              display: true,
              text: "Time (days)",
              color: "#000000",
              font: { size: 8.5, family: FONT },
              padding: { top: 0, bottom: 1.5 },
            },
          },
          y: {
            type: p.log ? "logarithmic" : "linear",
            position: "left",
            min: p.yMin,
            max: p.yMax,
            afterBuildTicks: (s: any) => {
              s.ticks = p.yMajor.map((v) => ({ value: v }));
            },
            afterFit: (s: any) => {
              s.width = p.yWidth;
            },
            grid: gridBase,
            border: { display: false },
            ticks: {
              font: tickFont,
              color: "#4D4D4D",
              padding: 1,
              autoSkip: false,
              callback: (v: any) => String(v),
            },
            title: {
              display: true,
              text: p.yTitle,
              color: "#000000",
              font: { size: p.yTitleSize, family: FONT },
              padding: { top: p.yTitlePad, bottom: 0 },
            },
          },
        },
      } as any,
      plugins: [bg, minor, logTicks],
    });
    return () => chart.destroy();
  }, [p]);

  return (
    <canvas
      ref={ref}
      width={p.width}
      height={p.height}
      style={{ position: "absolute", left: p.left, top: p.top, width: p.width, height: p.height }}
    />
  );
}

export default function App() {
  return (
    <div style={{ position: "absolute", left: 0, top: 0, width: 513, height: 519, background: "#FFFFFF", overflow: "hidden" }}>
      {panels.map((p, i) => (
        <Panel key={i} p={p} />
      ))}
    </div>
  );
}
